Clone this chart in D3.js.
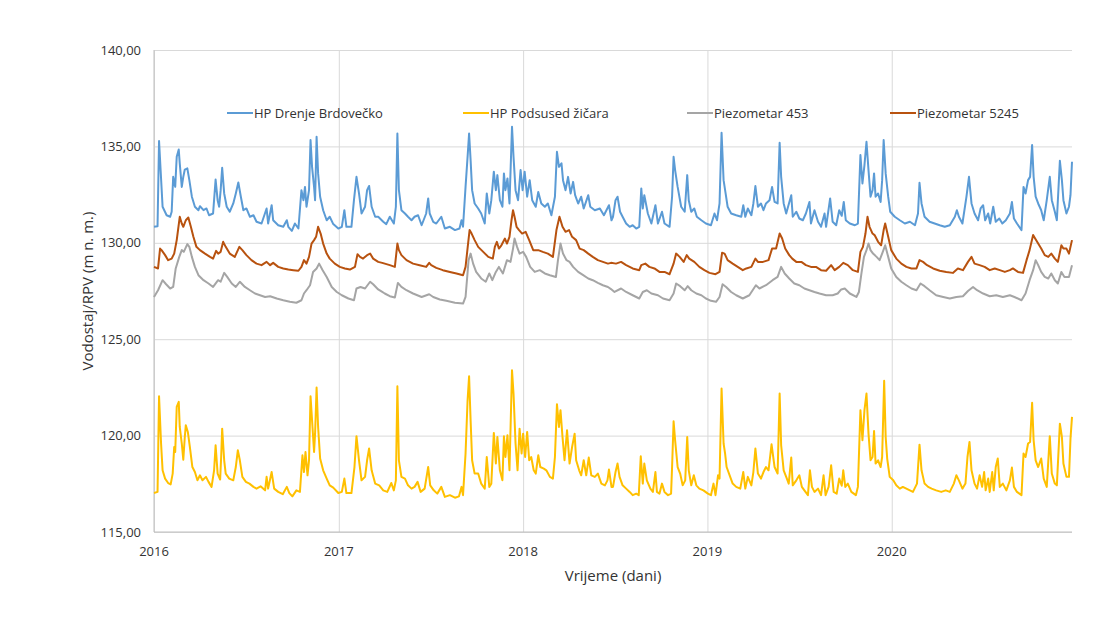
<!DOCTYPE html>
<html>
<head>
<meta charset="utf-8">
<script src="https://cdn.jsdelivr.net/npm/d3@7"></script>
<style>
  body { margin: 0; background: #fff; }
  svg { font-family: "Open Sans", "Noto Sans", sans-serif; }
  .grid line { stroke: #d9d9d9; }
  .grid path { display: none; }
  .tick-label { fill: #333; font-size: 13px; }
  .series { fill: none; stroke-width: 2; stroke-linejoin: round; }
</style>
</head>
<body>
<svg id="chart" width="1107" height="629"></svg>
<script>
// days since 2016-01-01, water level (m n. m.)
const drenje = [
  [0,130.83],[7,130.86],[10,135.28],[17,131.87],[25,131.43],[32,131.35],[35,131.61],[38,133.42],[42,132.90],[45,134.46],
  [49,134.84],[51,134.12],[55,132.90],[58,133.42],[61,133.80],[66,133.86],[70,133.25],[75,132.39],[81,131.87],[88,131.69],
  [91,131.90],[98,131.69],[104,131.78],[109,131.43],[117,131.52],[122,133.28],[126,132.21],[129,131.87],[132,132.73],[135,133.89],
  [139,132.56],[144,131.87],[150,131.61],[157,132.04],[162,132.56],[167,133.13],[172,132.39],[177,131.69],[183,131.78],[190,131.35],
  [197,131.43],[203,131.09],[213,131.00],[223,131.78],[226,131.00],[233,131.95],[236,131.17],[246,130.91],[256,130.83],[263,131.17],
  [266,130.83],[273,130.62],[279,131.00],[286,130.74],[292,132.73],[296,132.21],[299,132.90],[302,131.87],[307,132.73],[310,135.33],
  [313,133.94],[317,132.90],[319,132.21],[322,135.50],[325,133.60],[329,132.39],[335,131.69],[342,131.17],[348,131.35],[355,130.97],
  [365,130.74],[372,130.83],[377,131.69],[381,130.83],[391,130.83],[396,132.21],[401,133.42],[406,132.56],[411,131.52],[418,131.87],
  [422,132.73],[426,132.95],[431,131.87],[438,131.35],[444,131.35],[451,131.17],[454,131.09],[460,130.97],[467,131.35],[475,131.00],
  [479,131.87],[482,135.67],[485,132.73],[490,131.69],[497,131.52],[503,131.35],[510,131.17],[516,131.35],[523,131.43],[530,130.91],
  [539,131.52],[543,132.30],[546,131.52],[553,131.09],[559,131.00],[569,131.35],[576,130.74],[586,130.83],[596,130.66],[605,130.74],
  [609,131.17],[612,130.83],[617,132.90],[621,134.46],[624,135.67],[627,134.29],[630,132.73],[635,132.04],[642,131.78],[648,131.52],
  [655,131.00],[659,132.56],[664,131.52],[668,132.21],[673,133.69],[677,132.73],[680,133.51],[685,132.21],[690,131.87],[693,133.60],
  [696,132.73],[700,133.34],[704,132.04],[709,136.02],[712,134.46],[716,132.73],[721,132.21],[726,133.77],[730,132.73],[734,133.69],
  [739,132.39],[744,133.25],[749,132.21],[756,131.87],[761,132.64],[767,132.04],[774,131.87],[780,132.04],[787,131.43],[794,132.39],
  [798,134.72],[802,133.94],[807,134.12],[810,133.25],[815,132.73],[820,133.42],[825,132.56],[830,133.16],[834,132.47],[840,132.04],
  [846,132.39],[851,131.78],[860,132.47],[864,131.87],[873,131.69],[883,131.78],[891,131.43],[901,131.95],[906,131.17],[909,131.35],
  [914,132.21],[918,132.39],[923,131.61],[928,131.35],[935,131.00],[942,130.83],[948,130.91],[955,130.74],[961,130.83],[965,132.82],
  [968,131.78],[971,132.47],[978,131.52],[985,131.00],[993,131.95],[998,131.00],[1006,131.61],[1011,131.00],[1021,130.83],[1026,132.39],
  [1029,134.46],[1032,133.77],[1037,132.90],[1044,131.87],[1051,131.61],[1056,133.51],[1059,132.21],[1064,131.61],[1070,131.78],[1075,131.35],
  [1084,131.17],[1093,131.00],[1103,130.91],[1110,131.52],[1115,131.17],[1120,132.04],[1124,135.71],[1128,133.25],[1132,132.56],[1136,131.87],
  [1143,131.52],[1153,131.43],[1163,131.35],[1167,131.95],[1171,131.35],[1176,131.78],[1183,131.43],[1187,132.04],[1191,132.94],[1196,131.87],
  [1202,132.04],[1207,131.69],[1212,132.04],[1219,132.21],[1224,132.90],[1229,132.12],[1235,132.04],[1239,135.19],[1242,133.42],[1247,132.04],
  [1252,131.52],[1262,132.47],[1265,131.35],[1272,131.61],[1278,131.26],[1285,131.17],[1291,131.52],[1298,132.12],[1301,131.00],[1308,131.69],
  [1315,131.09],[1321,130.83],[1328,131.52],[1331,130.83],[1339,132.30],[1344,131.09],[1351,130.91],[1357,131.69],[1362,131.40],[1366,132.12],
  [1370,131.17],[1378,131.00],[1388,130.91],[1394,131.00],[1399,134.55],[1403,133.08],[1407,134.03],[1411,135.24],[1415,133.77],[1419,132.39],
  [1423,132.73],[1426,133.60],[1429,132.39],[1434,132.56],[1439,132.12],[1442,133.25],[1445,135.33],[1449,133.60],[1454,132.39],[1458,131.61],
  [1467,131.35],[1477,131.17],[1487,131.00],[1497,131.09],[1507,130.91],[1513,131.52],[1516,133.11],[1520,132.04],[1526,131.35],[1536,131.09],
  [1546,131.00],[1556,130.91],[1566,130.83],[1576,130.91],[1586,131.35],[1590,131.69],[1594,131.35],[1601,131.00],[1609,132.39],[1614,133.42],
  [1619,132.04],[1625,131.52],[1632,131.17],[1637,131.78],[1642,131.95],[1646,131.17],[1652,131.52],[1656,131.00],[1662,131.87],[1667,131.09],
  [1674,131.26],[1680,131.00],[1687,131.17],[1695,131.52],[1699,132.12],[1703,131.26],[1709,131.00],[1718,130.66],[1722,132.90],[1726,132.56],
  [1731,133.25],[1735,133.42],[1739,135.07],[1742,133.42],[1746,132.39],[1751,132.04],[1757,131.69],[1762,131.17],[1768,132.21],[1774,133.42],
  [1778,132.21],[1784,131.61],[1788,131.17],[1794,134.25],[1798,133.25],[1801,132.21],[1807,131.52],[1812,131.87],[1815,132.47],[1818,134.20]
];

const podsused = [
  [0,117.02],[7,117.08],[10,122.04],[14,119.59],[17,118.20],[22,117.77],[28,117.54],[33,117.47],[37,118.03],[40,119.41],
  [42,119.15],[45,121.49],[49,121.75],[51,120.45],[55,119.59],[58,118.75],[61,119.93],[63,120.54],[67,120.19],[71,119.41],
  [76,118.37],[81,118.11],[86,117.68],[91,117.94],[96,117.68],[103,117.86],[108,117.60],[114,117.34],[119,118.20],[122,119.50],
  [126,118.03],[131,117.72],[133,118.89],[135,120.36],[139,118.72],[142,118.03],[149,117.77],[157,117.68],[162,118.37],[166,119.24],
  [170,118.72],[175,117.86],[182,117.60],[189,117.51],[197,117.34],[203,117.25],[211,117.37],[220,117.16],[223,117.86],[226,117.25],
  [233,118.11],[238,117.25],[246,117.08],[255,116.96],[263,117.34],[268,117.02],[274,116.85],[282,117.16],[289,117.08],[294,118.98],
  [297,118.11],[300,119.15],[304,117.94],[307,118.72],[310,122.04],[313,120.80],[317,119.15],[319,120.10],[322,122.49],[325,120.45],
  [329,118.81],[335,118.20],[342,117.77],[348,117.42],[355,117.30],[365,117.02],[372,117.08],[377,117.77],[381,117.02],[391,117.02],
  [397,118.37],[401,119.97],[406,118.72],[411,117.68],[418,117.86],[422,118.72],[426,119.33],[431,118.20],[438,117.51],[446,117.42],
  [454,117.16],[462,117.08],[470,117.54],[475,117.16],[479,117.68],[482,122.56],[485,118.72],[490,117.86],[497,117.77],[503,117.42],
  [510,117.25],[516,117.34],[522,117.60],[528,117.08],[536,117.25],[543,118.37],[547,117.42],[554,117.16],[561,116.99],[569,117.34],
  [576,116.82],[586,116.91],[596,116.78],[604,116.85],[609,117.34],[612,116.91],[617,119.07],[621,121.83],[624,123.08],[627,120.80],
  [630,118.72],[635,118.03],[642,118.03],[648,117.51],[655,117.25],[659,118.89],[664,117.34],[668,117.51],[673,120.14],[677,118.55],
  [680,119.93],[685,118.20],[690,117.68],[693,119.97],[696,118.89],[700,120.02],[704,118.20],[709,123.39],[712,122.18],[716,119.59],
  [720,118.20],[724,120.36],[728,119.07],[731,120.10],[735,118.89],[739,120.19],[743,118.72],[747,118.89],[752,118.20],[756,118.03],
  [761,118.98],[765,118.37],[772,118.29],[777,118.20],[784,117.86],[790,117.77],[794,118.89],[798,121.63],[802,120.45],[805,121.32],
  [809,119.93],[813,118.72],[818,120.28],[823,118.55],[828,119.41],[833,120.10],[836,118.72],[842,118.20],[846,117.94],[851,118.72],
  [856,117.94],[861,118.86],[866,117.94],[873,117.86],[879,118.03],[886,117.51],[893,117.42],[898,117.68],[901,118.24],[906,117.34],
  [909,117.34],[914,118.11],[918,118.55],[922,117.86],[928,117.42],[935,117.25],[942,117.08],[948,116.91],[955,116.99],[960,116.91],
  [964,118.93],[968,117.51],[971,118.55],[976,117.68],[983,117.25],[988,117.08],[993,118.11],[996,117.08],[1001,116.99],[1006,117.51],
  [1011,117.08],[1018,116.91],[1024,116.99],[1026,118.37],[1029,120.74],[1032,119.76],[1037,118.37],[1042,118.03],[1047,117.42],[1052,117.68],
  [1056,119.93],[1059,118.20],[1064,117.42],[1069,117.94],[1074,117.42],[1080,117.25],[1088,117.16],[1097,116.99],[1103,116.91],[1108,117.51],
  [1112,116.91],[1117,117.94],[1120,117.77],[1124,122.44],[1128,119.59],[1131,119.07],[1134,118.37],[1140,117.94],[1146,117.51],[1153,117.34],
  [1161,117.25],[1167,118.11],[1171,117.25],[1176,117.86],[1183,117.42],[1187,118.11],[1191,119.33],[1196,118.03],[1202,117.77],[1207,118.11],
  [1212,118.37],[1217,118.20],[1223,119.55],[1229,118.37],[1235,118.03],[1239,122.18],[1242,119.50],[1247,118.20],[1252,117.86],[1257,117.51],
  [1262,118.86],[1265,117.42],[1272,117.68],[1278,117.94],[1283,117.34],[1288,117.16],[1295,116.91],[1299,118.20],[1303,117.34],[1308,117.08],
  [1315,117.25],[1321,116.91],[1326,117.94],[1330,116.91],[1336,117.34],[1341,118.46],[1346,117.08],[1352,116.99],[1357,117.77],[1362,117.40],
  [1365,118.20],[1369,117.34],[1374,117.51],[1381,117.08],[1390,116.91],[1394,117.34],[1399,121.32],[1403,119.76],[1407,121.32],[1411,122.18],
  [1415,120.10],[1419,118.72],[1423,118.89],[1426,120.24],[1429,118.55],[1434,118.72],[1439,118.37],[1442,118.89],[1446,122.84],[1449,119.93],
  [1452,118.81],[1457,117.86],[1464,117.68],[1470,117.42],[1477,117.25],[1483,117.34],[1490,117.25],[1497,117.16],[1503,117.08],[1511,117.51],
  [1516,119.53],[1520,118.20],[1526,117.51],[1533,117.34],[1540,117.25],[1549,117.16],[1559,117.08],[1568,117.16],[1576,117.08],[1584,117.51],
  [1589,117.94],[1594,117.68],[1601,117.25],[1607,117.51],[1611,118.89],[1615,119.67],[1619,118.20],[1625,117.51],[1630,117.25],[1635,117.94],
  [1640,117.34],[1644,118.11],[1647,117.16],[1652,117.77],[1655,117.08],[1660,118.11],[1663,117.16],[1667,118.37],[1671,118.81],[1675,117.34],
  [1681,117.51],[1688,117.16],[1695,117.68],[1699,118.34],[1703,117.34],[1709,117.08],[1718,116.91],[1722,119.07],[1726,118.89],[1731,119.59],
  [1735,119.67],[1739,121.70],[1742,119.76],[1746,118.72],[1751,118.37],[1757,118.81],[1762,117.77],[1768,117.34],[1774,119.97],[1778,118.03],
  [1784,117.51],[1788,117.42],[1794,120.62],[1798,119.93],[1801,118.55],[1807,117.86],[1812,117.86],[1815,119.84],[1818,120.97]
];

const piezo453 = [
  [0,127.19],[8,127.54],[17,128.06],[24,127.85],[32,127.63],[38,127.71],[43,128.67],[50,129.27],[55,129.62],[59,129.53],
  [66,129.93],[70,129.79],[75,129.27],[81,128.75],[88,128.32],[98,128.06],[108,127.89],[117,127.71],[127,128.06],[132,127.98],
  [139,128.44],[145,128.23],[154,127.89],[162,127.71],[170,127.98],[180,127.71],[190,127.54],[200,127.37],[210,127.28],[220,127.19],
  [230,127.23],[243,127.11],[256,127.02],[269,126.94],[282,126.89],[292,127.02],[297,127.37],[302,127.54],[309,127.80],[315,128.49],
  [322,128.67],[327,128.92],[334,128.58],[342,128.23],[352,127.71],[362,127.45],[372,127.28],[385,127.11],[396,127.02],[401,127.63],
  [409,127.71],[418,127.63],[428,127.98],[434,127.85],[444,127.58],[452,127.45],[457,127.37],[467,127.23],[477,127.16],[483,127.92],
  [490,127.71],[500,127.54],[513,127.37],[530,127.19],[545,127.33],[553,127.19],[566,127.06],[579,126.99],[596,126.89],[612,126.85],
  [617,127.19],[623,129.10],[627,129.44],[632,128.92],[638,128.49],[648,128.15],[657,127.98],[664,128.41],[670,128.06],[677,128.49],
  [683,128.75],[691,128.41],[699,129.10],[706,129.01],[711,129.70],[714,130.22],[719,129.79],[724,129.44],[731,129.53],[737,129.27],
  [745,128.75],[754,128.49],[764,128.58],[774,128.41],[784,128.32],[796,128.23],[800,129.10],[805,129.96],[810,129.44],[817,129.10],
  [823,129.01],[830,128.75],[840,128.49],[850,128.32],[860,128.15],[869,128.06],[879,127.92],[889,127.80],[899,127.71],[905,127.60],
  [912,127.45],[925,127.63],[935,127.45],[948,127.28],[961,127.11],[968,127.45],[976,127.54],[985,127.37],[998,127.28],[1008,127.11],
  [1021,127.02],[1029,127.37],[1034,127.89],[1042,127.75],[1051,127.54],[1057,127.75],[1064,127.54],[1074,127.37],[1084,127.28],[1093,127.11],
  [1103,126.99],[1113,126.94],[1120,127.19],[1126,127.85],[1133,127.71],[1143,127.45],[1153,127.28],[1166,127.11],[1179,127.28],[1192,127.80],
  [1199,127.63],[1212,127.80],[1225,128.06],[1235,128.23],[1242,128.75],[1249,128.41],[1258,128.15],[1268,127.89],[1278,127.80],[1288,127.63],
  [1298,127.54],[1308,127.45],[1318,127.37],[1331,127.28],[1344,127.28],[1354,127.37],[1361,127.58],[1368,127.63],[1378,127.37],[1391,127.19],
  [1396,127.45],[1401,128.41],[1406,129.27],[1411,129.62],[1415,129.96],[1419,129.62],[1424,129.44],[1431,129.27],[1437,129.10],[1442,129.44],
  [1448,129.87],[1454,129.27],[1460,128.67],[1470,128.23],[1480,127.98],[1490,127.80],[1500,127.63],[1510,127.54],[1518,127.89],[1526,127.75],
  [1536,127.54],[1549,127.28],[1563,127.19],[1576,127.11],[1589,127.19],[1602,127.23],[1612,127.50],[1622,127.71],[1630,127.54],[1642,127.37],
  [1655,127.23],[1668,127.28],[1681,127.19],[1695,127.28],[1704,127.19],[1718,127.02],[1726,127.37],[1734,128.06],[1741,128.58],[1746,129.10],
  [1751,128.84],[1757,128.49],[1764,128.23],[1771,128.15],[1777,128.41],[1784,128.06],[1790,127.89],[1797,128.49],[1803,128.23],[1812,128.23],
  [1818,128.84]
];

const piezo5245 = [
  [0,128.75],[8,128.67],[12,129.70],[15,129.62],[22,129.36],[28,129.10],[35,129.18],[40,129.44],[45,130.14],[51,131.35],
  [55,131.00],[58,130.83],[63,131.17],[68,131.31],[73,130.83],[78,130.31],[84,129.79],[91,129.62],[101,129.44],[111,129.27],
  [117,129.18],[123,129.58],[127,129.44],[132,129.53],[137,130.05],[142,129.79],[150,129.44],[160,129.27],[169,129.79],[175,129.62],
  [183,129.36],[193,129.10],[203,128.92],[213,128.84],[223,129.01],[230,128.84],[236,128.96],[246,128.75],[256,128.67],[266,128.61],
  [276,128.58],[286,128.55],[292,128.75],[297,129.10],[302,128.92],[307,129.27],[312,129.96],[317,130.14],[321,130.31],[325,130.83],
  [330,130.48],[335,129.96],[342,129.44],[348,129.18],[358,128.92],[368,128.75],[378,128.67],[388,128.61],[398,128.75],[403,129.41],
  [408,129.27],[414,129.18],[422,129.36],[428,129.44],[434,129.18],[444,129.01],[452,128.96],[457,128.92],[467,128.84],[477,128.75],
  [482,129.96],[485,129.62],[490,129.36],[500,129.10],[513,128.92],[526,128.84],[539,128.75],[545,128.96],[549,128.84],[559,128.70],
  [572,128.58],[586,128.49],[599,128.41],[612,128.32],[617,128.75],[622,129.96],[625,130.66],[629,130.48],[635,130.14],[642,129.79],
  [652,129.53],[662,129.27],[671,129.18],[675,129.79],[679,130.05],[683,129.70],[688,129.87],[695,130.22],[699,129.96],[704,130.31],
  [708,131.17],[711,131.69],[714,131.35],[718,130.83],[723,130.66],[729,130.48],[736,130.57],[743,130.14],[751,129.62],[761,129.62],
  [770,129.53],[780,129.44],[790,129.27],[797,130.66],[803,131.35],[809,130.83],[815,130.57],[822,130.66],[828,130.31],[836,130.14],
  [843,129.70],[851,129.62],[860,129.44],[869,129.27],[879,129.10],[889,129.01],[899,128.92],[905,128.96],[915,128.92],[925,129.01],
  [935,128.84],[948,128.67],[961,128.58],[965,128.84],[973,128.92],[981,128.75],[991,128.67],[1001,128.49],[1011,128.49],[1021,128.37],
  [1029,128.92],[1034,129.44],[1041,129.27],[1049,129.01],[1055,129.36],[1060,129.18],[1070,129.01],[1080,128.75],[1090,128.58],[1100,128.44],
  [1112,128.37],[1120,128.49],[1125,129.48],[1130,129.44],[1136,129.10],[1146,128.92],[1156,128.75],[1166,128.58],[1173,128.67],[1183,128.75],
  [1191,129.18],[1196,129.01],[1206,129.01],[1217,129.10],[1224,129.70],[1232,129.70],[1239,130.48],[1244,130.22],[1250,129.70],[1258,129.36],
  [1264,129.18],[1272,129.01],[1282,129.01],[1291,128.84],[1301,128.75],[1311,128.75],[1321,128.58],[1331,128.55],[1341,128.84],[1348,128.58],
  [1357,128.75],[1365,128.96],[1374,128.84],[1384,128.58],[1394,128.49],[1399,129.53],[1404,129.79],[1409,130.48],[1413,131.35],[1417,130.83],
  [1423,130.48],[1427,130.40],[1434,130.05],[1440,129.87],[1445,130.66],[1448,131.00],[1454,130.31],[1460,129.62],[1470,129.18],[1480,128.92],
  [1490,128.75],[1500,128.67],[1510,128.67],[1516,129.10],[1523,129.01],[1531,128.84],[1543,128.67],[1556,128.55],[1569,128.49],[1582,128.44],
  [1592,128.67],[1602,128.58],[1612,129.01],[1619,129.27],[1625,128.92],[1635,128.84],[1645,128.75],[1655,128.58],[1665,128.67],[1675,128.58],
  [1685,128.49],[1695,128.58],[1701,128.67],[1711,128.49],[1721,128.44],[1728,129.10],[1734,129.62],[1741,130.40],[1745,130.22],[1751,129.96],
  [1757,129.70],[1764,129.36],[1771,129.27],[1777,129.44],[1784,129.18],[1790,129.01],[1797,129.87],[1801,129.70],[1807,129.70],[1812,129.44],
  [1818,130.14]
];

const seriesNames = ["HP Drenje Brdovečko", "HP Podsused žičara", "Piezometar 453", "Piezometar 5245"];
const seriesColors = ["#5b9bd5", "#ffc000", "#a5a5a5", "#b8520f"];
const seriesData = [drenje, podsused, piezo453, piezo5245];
const yTicks = [115, 120, 125, 130, 135, 140];
const lastDay = 1818;

const svg = d3.select("svg#chart");
const margin = { top: 50, right: 35, bottom: 97, left: 154 };
const chartWidth = 1107 - margin.left - margin.right;
const chartHeight = 629 - margin.top - margin.bottom;
const startDate = new Date(2016, 0, 1);
const toDate = (d) => d3.timeDay.offset(startDate, d);

const xScale = d3.scaleTime([startDate, toDate(lastDay)], [0, chartWidth]);
const yScale = d3.scaleLinear([115, 140], [chartHeight, 0]);

let plot = svg.append("g").attr("transform", `translate(${margin.left},${margin.top})`);

// gridlines
plot.append("g")
  .attr("class", "grid")
  .call(d3.axisLeft(yScale).tickValues(yTicks).tickSize(-chartWidth).tickFormat(""));
plot.append("g")
  .attr("class", "grid")
  .attr("transform", `translate(0,${chartHeight})`)
  .call(d3.axisBottom(xScale).ticks(d3.timeYear.every(1)).tickSize(-chartHeight).tickFormat(""));

// axis lines
plot.append("line").attr("x1", 0).attr("x2", 0).attr("y1", 0).attr("y2", chartHeight)
  .attr("stroke", "#bfbfbf");
plot.append("line").attr("x1", 0).attr("x2", chartWidth).attr("y1", chartHeight).attr("y2", chartHeight)
  .attr("stroke", "#bfbfbf");

// tick labels
const fmt = (v) => d3.format(".2f")(v).replace(".", ",");
plot.selectAll(".ylab")
  .data(yTicks)
  .join("text")
  .attr("class", "tick-label")
  .attr("x", -13)
  .attr("y", (d) => yScale(d))
  .attr("dy", "0.35em")
  .attr("text-anchor", "end")
  .text(fmt);
plot.selectAll(".xlab")
  .data(xScale.ticks(d3.timeYear.every(1)))
  .join("text")
  .attr("class", "tick-label")
  .attr("x", (d) => xScale(d))
  .attr("y", chartHeight + 19)
  .attr("dy", "0.35em")
  .attr("text-anchor", "middle")
  .text(d3.timeFormat("%Y"));

// series
let line = d3.line((d) => xScale(toDate(d[0])), (d) => yScale(d[1]));
plot.selectAll(".series")
  .data(seriesData)
  .join("path")
  .attr("class", "series")
  .attr("stroke", (d, i) => seriesColors[i])
  .attr("d", line);

// axis titles
svg.append("text")
  .attr("transform", `translate(93,${margin.top + chartHeight / 2}) rotate(-90)`)
  .attr("text-anchor", "middle")
  .attr("fill", "#333")
  .attr("font-size", 15)
  .text("Vodostaj/RPV (m n. m.)");
svg.append("text")
  .attr("x", margin.left + chartWidth / 2)
  .attr("y", 581)
  .attr("text-anchor", "middle")
  .attr("fill", "#333")
  .attr("font-size", 15)
  .text("Vrijeme (dani)");

// legend
const legendX = [227, 463, 687, 890];
let legend = svg.append("g").attr("transform", "translate(0,113)");
let items = legend.selectAll("g")
  .data(seriesNames)
  .join("g")
  .attr("transform", (d, i) => `translate(${legendX[i]},0)`);
items.append("line")
  .attr("x1", 0).attr("x2", 26)
  .attr("stroke", (d, i) => seriesColors[i])
  .attr("stroke-width", 2);
items.append("text")
  .attr("class", "tick-label")
  .attr("x", 27)
  .attr("dy", "0.35em")
  .text((d) => d);
</script>
</body>
</html>
